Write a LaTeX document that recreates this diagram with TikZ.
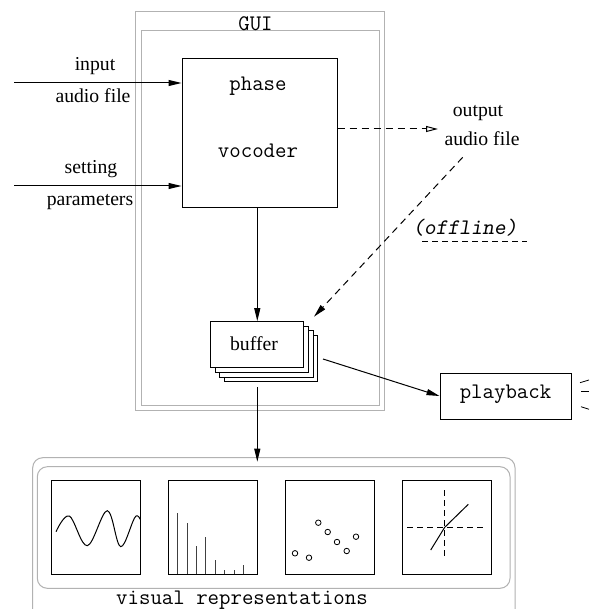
\documentclass[tikz,border=0pt]{standalone}
\usepackage{fontspec}
\setmainfont{Liberation Serif}
\usetikzlibrary{arrows.meta}
\begin{document}
\begin{tikzpicture}[x=1pt,y=-1pt,
  lbl/.style={font=\fontsize{19.7}{22}\selectfont, inner sep=0pt, anchor=mid},
  ttl/.style={font=\fontsize{22.2}{25}\selectfont\ttfamily, inner sep=0pt, anchor=mid},
  box/.style={draw=black, line width=1pt, fill=white, inner sep=0pt},
  guibox/.style={draw=gray!60, line width=1pt},
  visbox/.style={draw=gray!60, line width=1pt, rounded corners=10pt},
  panel/.style={draw=black, line width=1pt},
  arr/.style={line width=1pt, -{Triangle[length=13pt,width=6pt]}},
  darr/.style={line width=1pt, dash pattern=on 7pt off 5pt},
  dot/.style={draw=black, line width=0.8pt, circle, inner sep=0pt, minimum size=5.5pt},
]
\useasboundingbox (0,0) rectangle (589,609);
\fill[white] (0,0) rectangle (589,609);

% GUI frame
\draw[guibox] (135,12) rectangle (384,410);
\draw[guibox] (141,31) rectangle (379,405);
\node[ttl, anchor=base] (gui) at (255.5,30.5) {GUI};

% phase vocoder
\node[box, minimum width=155pt, minimum height=149pt] (voc) at (259.5,133.5) {};
\node[ttl] (phase) at (258,88) {phase};
\node[ttl] (vocoder) at (258,155) {vocoder};

% inputs
\coordinate (in1) at (14,83);
\coordinate (in2) at (14,186);
\draw[arr] (in1) -- (in1 -| voc.west);
\draw[arr] (in2) -- (in2 -| voc.west);
\node[lbl] (linput) at (95,68) {input};
\node[lbl] (laudio) at (93,100) {audio file};
\node[lbl] (lsetting) at (91,171) {setting};
\node[lbl] (lparams) at (90,203) {parameters};

% buffer stack
\foreach \k in {3,2,1} {
  \node[box, minimum width=93.3pt, minimum height=46.3pt] at (257.3+4.6*\k,344.8+4.6*\k) {};
}
\node[box, minimum width=93.3pt, minimum height=46.3pt] (buf) at (257.3,344.8) {};
\node[lbl] (buftxt) at (254,348) {buffer};

\draw[arr] (voc.south -| buf.north) -- (buf.north);

% output audio file
\node[lbl] (lout1) at (478,114) {output};
\node[lbl] (lout2) at (482,143) {audio file};
\coordinate (outtip) at (438,129);
\draw[darr, -{Triangle[open,length=12pt,width=6pt]}] (voc.east |- outtip) -- (outtip);
\coordinate (offstart) at (462.7,157.3);
\coordinate (bufin) at (314,316.7);
\draw[darr, -{Triangle[length=13pt,width=6pt]}] (offstart) -- (bufin);
\node[ttl, font=\fontsize{22.2}{25}\selectfont\ttfamily\slshape] (offline) at (465,232) {(offline)};
\draw[line width=1pt, dash pattern=on 6pt off 4pt] (422,241.7) -- (527,241.7);

% playback
\node[box, minimum width=131pt, minimum height=46pt] (play) at (505.5,396) {};
\node[ttl] (playtxt) at (505.5,396) {playback};
\coordinate (bufout) at (323,359);
\draw[arr] (bufout) -- (play.west);
\draw[line width=0.8pt] (580,382.7) -- (589,380);
\draw[line width=0.8pt] (581,391.7) -- (589,391.7);
\draw[line width=0.8pt] (581,406.7) -- (589,409.3);

% visual representations
\draw[visbox] (32.7,457.7) rectangle (515,625);
\draw[visbox] (37.3,466.7) rectangle (510,588.3);
\coordinate (visin) at (257.3,387);
\coordinate (vistip) at (257.3,461.7);
\draw[arr] (visin) -- (vistip);
\node[ttl] (vistxt) at (242,602) {visual representations};

% panels
\node[panel, minimum width=89.7pt, minimum height=93.6pt, inner sep=0pt] (p1) at (95.85,527.5) {};
\node[panel, minimum width=89.4pt, minimum height=93.6pt, inner sep=0pt] (p2) at (213,527.5) {};
\node[panel, minimum width=88.6pt, minimum height=93.6pt, inner sep=0pt] (p3) at (330,527.5) {};
\node[panel, minimum width=89.4pt, minimum height=93.6pt, inner sep=0pt] (p4) at (447,527.5) {};

% panel 1: wave
\begin{scope}
  \clip (51,480.7) rectangle (140.7,574.3);
  \draw[line width=1pt] plot[smooth, tension=0.6] coordinates {(56,531.7) (69.3,516) (87.3,545.7) (107.3,510.7) (120.7,546.7) (136,516) (144,530)};
\end{scope}

% panel 2: spectrum bars
\foreach \x/\t in {177.7/513.3, 187/523.3, 196.3/546, 205.7/537, 215/560.3, 224.7/570, 234/570, 243.3/565} {
  \draw[line width=1pt, black!75] (\x,574.3) -- (\x,\t);
}

% panel 3: scatter
\foreach \x/\y in {295/553.3, 309/557.7, 318.3/522.7, 327.7/532, 337/542, 346.7/551, 356/536.7} {
  \node[dot] at (\x,\y) {};
}

% panel 4: axes and curve
\draw[line width=1pt, dash pattern=on 6pt off 4pt] (444.7,490) -- (444.7,558.3);
\draw[line width=1pt, dash pattern=on 6pt off 4pt] (407.3,527.3) -- (486.7,527.3);
\draw[line width=1pt] (430.7,550) -- (444.7,527.3) -- (468.3,504.3);
\end{tikzpicture}
\end{document}
